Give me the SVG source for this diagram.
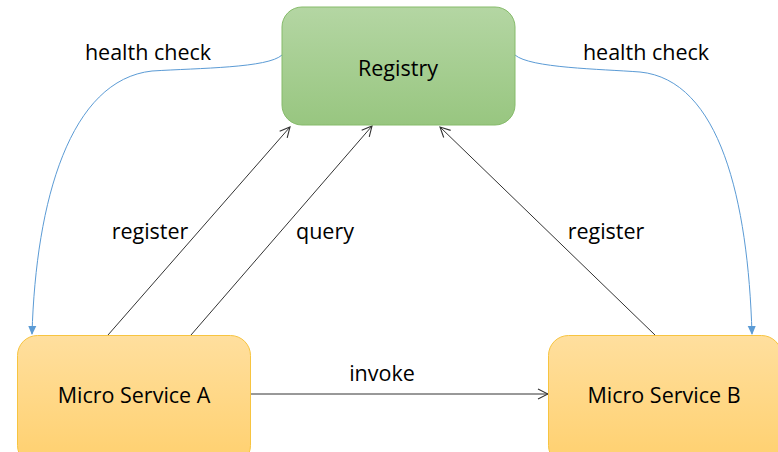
<svg xmlns="http://www.w3.org/2000/svg" width="778" height="452" viewBox="0 0 778 452">
  <defs>
    <linearGradient id="gradGreen" x1="0" y1="0" x2="0" y2="1">
      <stop offset="0" stop-color="#b4d6a3"/>
      <stop offset="1" stop-color="#98c680"/>
    </linearGradient>
    <linearGradient id="gradOrange" x1="0" y1="0" x2="0" y2="1">
      <stop offset="0" stop-color="#ffdf9e"/>
      <stop offset="1" stop-color="#ffd06e"/>
    </linearGradient>
    <marker id="openArrow" viewBox="0 0 12 12" refX="11" refY="6" markerWidth="12" markerHeight="12" markerUnits="userSpaceOnUse" orient="auto">
      <path d="M1,1 L11,6 L1,11" fill="none" stroke="#333" stroke-width="1.1"/>
    </marker>
    <marker id="blueArrow" viewBox="0 0 10 10" refX="9" refY="5" markerWidth="9" markerHeight="9" markerUnits="userSpaceOnUse" orient="auto">
      <path d="M0,0.5 L10,5 L0,9.5 Z" fill="#5b9bd5"/>
    </marker>
    <style>
      .label { font-family: "Open Sans", "Liberation Sans", sans-serif; font-size: 21.5px; fill: #000; }
      .nodeText { font-family: "Open Sans", "Liberation Sans", sans-serif; font-size: 21.5px; fill: #000; text-anchor: middle; }
      .flow { fill: none; stroke: #333; stroke-width: 1; marker-end: url(#openArrow); }
      .health { fill: none; stroke: #5b9bd5; stroke-width: 1; marker-end: url(#blueArrow); }
    </style>
  </defs>
  <rect width="778" height="452" fill="#ffffff"/>

  <g id="connectors">
    <path class="health" d="M282,55 C268,68 200,68 152,71 C70,80 36,200 32,334"/>
    <path class="health" d="M515,55 C530,68 600,69 640,72 C720,80 748,200 752,334"/>
    <line class="flow" x1="108" y1="335" x2="290" y2="127"/>
    <line class="flow" x1="191" y1="335" x2="372" y2="126"/>
    <line class="flow" x1="655" y1="335" x2="440" y2="127"/>
    <line class="flow" x1="251" y1="394" x2="548" y2="394"/>
  </g>

  <g id="labels">
    <text class="label" x="148" y="60" text-anchor="middle">health check</text>
    <text class="label" x="646" y="60" text-anchor="middle">health check</text>
    <text class="label" x="150" y="239" text-anchor="middle">register</text>
    <text class="label" x="325" y="239" text-anchor="middle">query</text>
    <text class="label" x="606" y="239" text-anchor="middle">register</text>
    <text class="label" x="382" y="381" text-anchor="middle">invoke</text>
  </g>

  <g id="registry">
    <rect x="282" y="7" width="233" height="118" rx="20" fill="url(#gradGreen)" stroke="#86bb6a" stroke-width="1"/>
    <text class="nodeText" x="398" y="76">Registry</text>
  </g>

  <g id="serviceA">
    <rect x="17.5" y="335.5" width="233" height="130" rx="20" fill="url(#gradOrange)" stroke="#f7c440" stroke-width="1"/>
    <text class="nodeText" x="134" y="403">Micro Service A</text>
  </g>

  <g id="serviceB">
    <rect x="548.5" y="335.5" width="233" height="130" rx="20" fill="url(#gradOrange)" stroke="#f7c440" stroke-width="1"/>
    <text class="nodeText" x="664" y="403">Micro Service B</text>
  </g>
</svg>
